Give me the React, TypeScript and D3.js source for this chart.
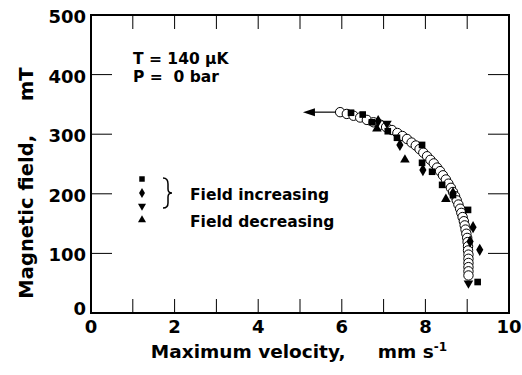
import React from "react";
import * as d3 from "d3";

const xTicks = [0, 2, 4, 6, 8, 10];
const xMinorTicks = [0, 1, 2, 3, 4, 5, 6, 7, 8, 9, 10];
const yTicks = [0, 100, 200, 300, 400, 500];

// open circles (main data)
const circles: [number, number][] = [
  [5.96, 337], [6.12, 334], [6.28, 331], [6.44, 328], [6.6, 324], [6.76, 320],
  [6.92, 316], [7.06, 312], [7.2, 307], [7.33, 302], [7.45, 297], [7.56, 292],
  [7.67, 286], [7.77, 281], [7.86, 275], [7.95, 269], [8.04, 263], [8.12, 257],
  [8.2, 251], [8.28, 244], [8.35, 238], [8.42, 231], [8.49, 224], [8.55, 217],
  [8.61, 210], [8.66, 203], [8.71, 196], [8.75, 189], [8.79, 182], [8.83, 175],
  [8.86, 168], [8.89, 161], [8.92, 154], [8.94, 147], [8.96, 140], [8.98, 133],
  [9.0, 126], [9.01, 119], [9.02, 112], [9.02, 105], [9.03, 98], [9.03, 91],
  [9.03, 84], [9.03, 77], [9.03, 70], [9.03, 63],
];
const squares: [number, number][] = [
  [6.22, 336], [6.5, 333], [6.72, 320], [7.1, 305], [7.32, 294], [7.92, 282],
  [7.92, 252], [8.16, 237], [8.4, 215], [8.66, 198], [9.02, 173], [9.25, 52],
];
const diamonds: [number, number][] = [
  [6.87, 322], [7.39, 282], [7.94, 240], [8.66, 201], [9.14, 144], [9.07, 120], [9.3, 106],
];
const downTriangles: [number, number][] = [[7.08, 318], [9.03, 50]];
const upTriangles: [number, number][] = [[6.84, 309], [7.51, 257], [8.49, 191]];
const arrowFrom: [number, number] = [5.9, 337];
const arrowTo: [number, number] = [5.07, 337];

const W = 522, H = 375;
const M = { left: 91, right: 509, top: 15, bottom: 313 };
const FONT = "'DejaVu Sans', sans-serif";

export default function App() {
  const x = d3.scaleLinear().domain([0, 10]).range([M.left, M.right]);
  const y = d3.scaleLinear().domain([0, 500]).range([M.bottom, M.top]);
  const sym = (type: d3.SymbolType, size: number) => d3.symbol().type(type).size(size)() as string;
  const sqPath = sym(d3.symbolSquare, 44);
  const diaPath = sym(d3.symbolDiamond, 44);
  const triPath = sym(d3.symbolTriangle, 40);

  const ax = x(arrowFrom[0]), ay = y(arrowFrom[1]);
  const bx = x(arrowTo[0]);

  return (
    <svg width={W} height={H} style={{ position: "absolute", left: 0, top: 0, background: "#fff" }}>
      <rect x={0} y={0} width={W} height={H} fill="#fff" />
      {/* ticks */}
      {xMinorTicks.map((t) => (
        <g key={"xt" + t}>
          <line x1={x(t)} x2={x(t)} y1={M.bottom} y2={M.bottom - 14} stroke="#000" strokeWidth={1} />
          <line x1={x(t)} x2={x(t)} y1={M.top} y2={M.top + 14} stroke="#000" strokeWidth={1} />
        </g>
      ))}
      {yTicks.map((t) => (
        <g key={"yt" + t}>
          <line x1={M.left} x2={M.left + 21} y1={y(t)} y2={y(t)} stroke="#000" strokeWidth={1} />
          <line x1={M.right} x2={M.right - 21} y1={y(t)} y2={y(t)} stroke="#000" strokeWidth={1} />
        </g>
      ))}
      <rect x={M.left} y={M.top} width={M.right - M.left} height={M.bottom - M.top} fill="none" stroke="#000" strokeWidth={2} />

      {/* tick labels */}
      {xTicks.map((t) => (
        <text key={"xl" + t} x={x(t)} y={333} textAnchor="middle" fontFamily={FONT} fontWeight="bold" fontSize={18}>
          {t}
        </text>
      ))}
      {yTicks.map((t) => (
        <text key={"yl" + t} x={86} y={t === 0 ? y(t) + 2 : y(t) + 8} textAnchor="end" fontFamily={FONT} fontWeight="bold" fontSize={18}>
          {t}
        </text>
      ))}

      {/* axis titles */}
      <text x={299} y={358} textAnchor="middle" fontFamily={FONT} fontWeight="bold" fontSize={18.5} style={{ whiteSpace: "pre" }}>
        {"Maximum velocity,     mm s"}
        <tspan dy={-7} fontSize={12}>-1</tspan>
      </text>
      <text transform={`translate(33,183) rotate(-90)`} textAnchor="middle" fontFamily={FONT} fontWeight="bold" fontSize={19.5} style={{ whiteSpace: "pre" }}>
        {"Magnetic field,     mT"}
      </text>

      {/* annotations */}
      <text x={133} y={64} fontFamily={FONT} fontWeight="bold" fontSize={15.5} style={{ whiteSpace: "pre" }}>
        {"T = 140 \u00b5K"}
      </text>
      <text x={133} y={82} fontFamily={FONT} fontWeight="bold" fontSize={15.5} style={{ whiteSpace: "pre" }}>
        {"P =  0 bar"}
      </text>

      {/* legend */}
      <path d={sym(d3.symbolSquare, 30)} transform="translate(142,179)" fill="#000" />
      <path d={sym(d3.symbolDiamond, 30)} transform="translate(142,193)" fill="#000" />
      <path d={sym(d3.symbolTriangle, 28)} transform="translate(142,206) rotate(180)" fill="#000" />
      <path d={sym(d3.symbolTriangle, 28)} transform="translate(142,220)" fill="#000" />
      <path d="M163,178 Q168,178 168,184 L168,189 Q168,193 172,193 Q168,193 168,197 L168,203 Q168,208 163,208" fill="none" stroke="#000" strokeWidth={1.5} />
      <text x={190} y={200} fontFamily={FONT} fontWeight="bold" fontSize={15.5}>Field increasing</text>
      <text x={190} y={227} fontFamily={FONT} fontWeight="bold" fontSize={15.5}>Field decreasing</text>

      {/* arrow */}
      <line x1={ax} x2={bx + 8} y1={ay} y2={ay} stroke="#000" strokeWidth={1.2} />
      <path d={`M${bx},${ay} L${bx + 12},${ay - 4} L${bx + 12},${ay + 4} Z`} fill="#000" />

      {/* data */}
      {circles.map((d, i) => (
        <circle key={"c" + i} cx={x(d[0])} cy={y(d[1])} r={4.7} fill="#fff" stroke="#000" strokeWidth={1} />
      ))}
      {squares.map((d, i) => (
        <path key={"s" + i} d={sqPath} transform={`translate(${x(d[0])},${y(d[1])})`} fill="#000" />
      ))}
      {diamonds.map((d, i) => (
        <path key={"d" + i} d={diaPath} transform={`translate(${x(d[0])},${y(d[1])})`} fill="#000" />
      ))}
      {downTriangles.map((d, i) => (
        <path key={"dt" + i} d={triPath} transform={`translate(${x(d[0])},${y(d[1])}) rotate(180)`} fill="#000" />
      ))}
      {upTriangles.map((d, i) => (
        <path key={"ut" + i} d={triPath} transform={`translate(${x(d[0])},${y(d[1])})`} fill="#000" />
      ))}
    </svg>
  );
}
